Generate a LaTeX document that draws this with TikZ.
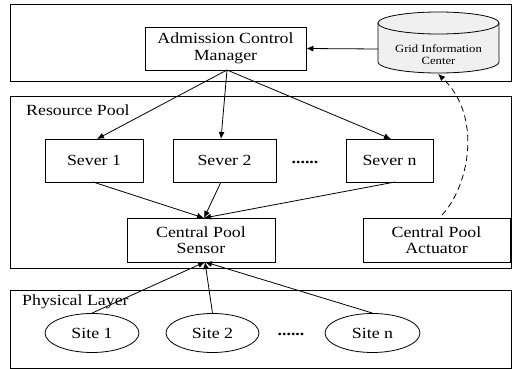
\documentclass[tikz,border=0pt]{standalone}
\usepackage{fontspec}
\setmainfont{Liberation Serif}[FakeStretch=1.15]
\usetikzlibrary{arrows.meta,shapes.geometric}
\begin{document}
\begin{tikzpicture}[x=1pt,y=-1pt,
  layer/.style={draw,line width=0.8pt},
  box/.style={draw,line width=0.8pt,inner sep=0pt,align=center,font=\fontsize{15.5}{16.5}\selectfont},
  site/.style={draw,ellipse,inner sep=0pt,line width=0.8pt,font=\fontsize{15.5}{16.5}\selectfont},
  arr/.style={-{Latex[length=7pt,width=6pt]},line width=0.8pt},
  lbl/.style={anchor=base west,inner sep=0pt,font=\fontsize{15.5}{16.5}\selectfont},
  dotsx/.style={anchor=base,inner sep=0pt,font=\fontsize{15.5}{16.5}\selectfont\bfseries}]
\useasboundingbox (0,0) rectangle (512,369);
% layers
\node[layer,minimum width=501,minimum height=77,anchor=north west,inner sep=0pt] (top) at (10,4) {};
\node[layer,minimum width=501,minimum height=172,anchor=north west,inner sep=0pt] (pool) at (10,96) {};
\node[layer,minimum width=501,minimum height=78,anchor=north west,inner sep=0pt] (phys) at (10,290) {};
\node[lbl] (poollbl) at (26,115) {Resource Pool};
\node[lbl] (physlbl) at (22,305) {Physical Layer};
% top
\node[box,minimum width=161,minimum height=43] (acm) at (225.5,48.5) {Admission Control\\Manager};
% cylinder
\fill[gray!12] (378,23) -- (378,62) arc[start angle=180,end angle=0,x radius=60.5,y radius=11] -- (499,23) arc[start angle=0,end angle=-180,x radius=60.5,y radius=11] -- cycle;
\draw[line width=0.8pt] (378,23) -- (378,62) arc[start angle=180,end angle=0,x radius=60.5,y radius=11] -- (499,23);
\draw[line width=0.8pt] (438.5,23) ellipse[x radius=60.5,y radius=11];
\node[inner sep=0pt,align=center,font=\fontsize{11}{12}\selectfont] (gic) at (438.5,55) {Grid Information\\Center};
\coordinate (gicL) at (378,49);
\coordinate (gicB) at (438,74);
% servers
\node[box,minimum width=98,minimum height=43] (s1) at (94,160.5) {Sever 1};
\node[box,minimum width=103,minimum height=43] (s2) at (224.5,160.5) {Sever 2};
\node[box,minimum width=87,minimum height=43] (sn) at (389.5,160.5) {Sever n};
\node[dotsx] (dots1) at (305,164) {......};
\node[box,minimum width=148,minimum height=44] (cps) at (201,240) {Central Pool\\Sensor};
\node[box,minimum width=147,minimum height=44] (cpa) at (436.5,240) {Central Pool\\Actuator};
% sites
\node[site,minimum width=94,minimum height=39] (p1) at (92,333) {Site 1};
\node[site,minimum width=93,minimum height=39] (p2) at (212.5,333) {Site 2};
\node[site,minimum width=95,minimum height=39] (pn) at (372.5,333) {Site n};
\node[dotsx] (dots2) at (291,335) {......};
% connectors
\coordinate (acmB) at (227,70);
\coordinate (cpsT) at (204,218);
\coordinate (cpsB) at (205,262);
\draw[arr] (gicL) -- (acm.east);
\draw[arr] (acmB) -- (97,139);
\draw[arr] (acmB) -- (221,139);
\draw[arr] (acmB) -- (391,139);
\draw[arr] (93,182) -- (cpsT);
\draw[arr] (221,182) -- (cpsT);
\draw[arr] (395,182) -- (cpsT);
\draw[arr] (p1.north) -- (cpsB);
\draw[arr] (p2.north) -- (cpsB);
\draw[arr] (pn.north) -- (cpsB);
\draw[arr,dashed,dash pattern=on 6pt off 4pt] (442,215) .. controls (470,185) and (482,115) .. (gicB);
\end{tikzpicture}
\end{document}
